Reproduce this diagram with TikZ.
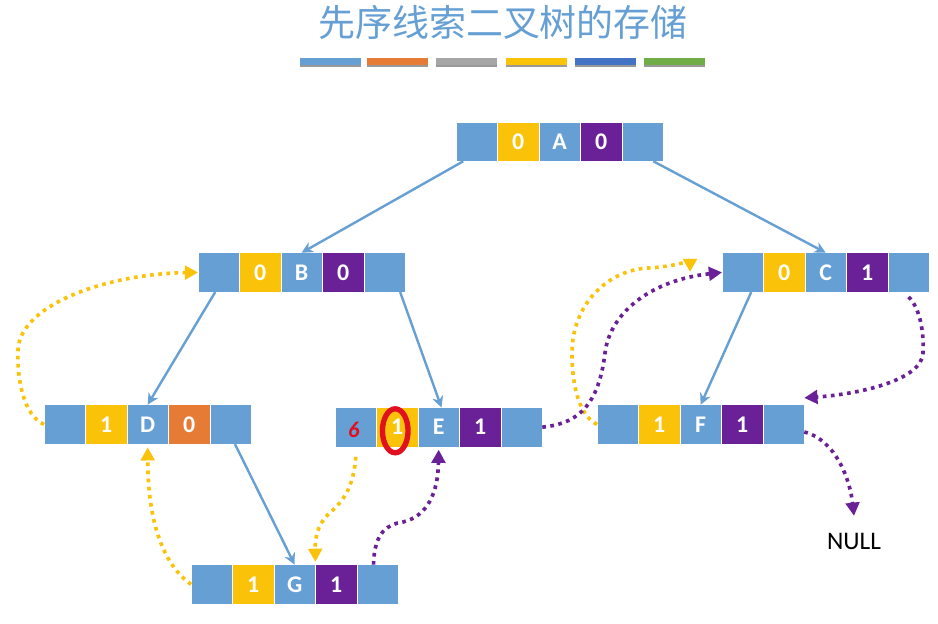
\documentclass[tikz,border=0pt]{standalone}
\usepackage{fontspec}
\setmainfont{Carlito}
\newfontfamily\cjk{Noto Sans CJK SC}
\usetikzlibrary{positioning, arrows.meta, shadows}
\definecolor{azul}{HTML}{659FD3}
\definecolor{amarillo}{HTML}{FAC30A}
\definecolor{morado}{HTML}{6A2198}
\definecolor{naranja}{HTML}{E57B35}
\definecolor{rojo}{HTML}{E0101E}

\begin{document}
\begin{tikzpicture}[
    % Estilos para las celdas
    celda/.style={draw=white, line width=0.4pt, outer sep=0pt, inner sep=0pt, minimum width=1.036cm, minimum height=0.985cm, text=white, font=\fontsize{17}{18}\selectfont\bfseries},
    celda_azul/.style={celda, fill=azul},
    celda_amarilla/.style={celda, fill=amarillo},
    celda_morada/.style={celda, fill=morado},
    celda_naranja/.style={celda, fill=naranja},
    barra/.style={minimum width=1.525cm, minimum height=0.175cm, inner sep=0pt, drop shadow={shadow xshift=0pt, shadow yshift=-0.05cm, fill=black, opacity=0.4}},
    % Estilos para las conexiones
    enlace/.style={draw=azul, line width=1.7pt, -{Stealth[length=2.8mm, width=2.8mm]}},
    hilo_amarillo/.style={draw=amarillo, line width=2.6pt, dash pattern=on 2.6pt off 3.2pt, -{Triangle[length=3.3mm, width=3.4mm]}},
    hilo_morado/.style={draw=morado, line width=2.6pt, dash pattern=on 2.6pt off 3.2pt, -{Triangle[length=3.3mm, width=3.4mm]}}
    ]

    \useasboundingbox (0,0) rectangle (23.45,15.6);

    % Titulo y barras de colores
    \node[text=azul, font=\cjk\fontsize{26.3}{30}\selectfont] (titulo) at (12.575,15.05) {先序线索二叉树的存储};
    \node[barra, fill=azul] (barra1) at (8.25,14.05) {};
    \node[barra, fill=naranja] (barra2) at (9.925,14.05) {};
    \node[barra, fill=gray!70] (barra3) at (11.66,14.05) {};
    \node[barra, fill=amarillo] (barra4) at (13.41,14.05) {};
    \node[barra, fill={rgb,255:red,68;green,114;blue,196}] (barra5) at (15.125,14.05) {};
    \node[barra, fill={rgb,255:red,112;green,173;blue,71}] (barra6) at (16.86,14.05) {};

    % Nodo A
    \node[celda_azul] (a1) at (11.92,12.06) {};
    \node[celda_amarilla, right=0pt of a1] (a2) {0};
    \node[celda_azul, right=0pt of a2] (a3) {A};
    \node[celda_morada, right=0pt of a3] (a4) {0};
    \node[celda_azul, right=0pt of a4] (a5) {};

    % Nodo B
    \node[celda_azul] (b1) at (5.47,8.79) {};
    \node[celda_amarilla, right=0pt of b1] (b2) {0};
    \node[celda_azul, right=0pt of b2] (b3) {B};
    \node[celda_morada, right=0pt of b3] (b4) {0};
    \node[celda_azul, right=0pt of b4] (b5) {};

    % Nodo C
    \node[celda_azul] (c1) at (18.57,8.79) {};
    \node[celda_amarilla, right=0pt of c1] (c2) {0};
    \node[celda_azul, right=0pt of c2] (c3) {C};
    \node[celda_morada, right=0pt of c3] (c4) {1};
    \node[celda_azul, right=0pt of c4] (c5) {};

    % Nodo D
    \node[celda_azul] (d1) at (1.62,4.99) {};
    \node[celda_amarilla, right=0pt of d1] (d2) {1};
    \node[celda_azul, right=0pt of d2] (d3) {D};
    \node[celda_naranja, right=0pt of d3] (d4) {0};
    \node[celda_azul, right=0pt of d4] (d5) {};

    % Nodo E
    \node[celda_azul] (e1) at (8.895,4.92) {};
    \node[celda_amarilla, right=0pt of e1] (e2) {1};
    \node[celda_azul, right=0pt of e2] (e3) {E};
    \node[celda_morada, right=0pt of e3] (e4) {1};
    \node[celda_azul, right=0pt of e4] (e5) {};

    % Nodo F
    \node[celda_azul] (f1) at (15.445,4.99) {};
    \node[celda_amarilla, right=0pt of f1] (f2) {1};
    \node[celda_azul, right=0pt of f2] (f3) {F};
    \node[celda_morada, right=0pt of f3] (f4) {1};
    \node[celda_azul, right=0pt of f4] (f5) {};

    % Nodo G
    \node[celda_azul] (g1) at (5.295,0.99) {};
    \node[celda_amarilla, right=0pt of g1] (g2) {1};
    \node[celda_azul, right=0pt of g2] (g3) {G};
    \node[celda_morada, right=0pt of g3] (g4) {1};
    \node[celda_azul, right=0pt of g4] (g5) {};

    \node[font=\fontsize{18}{20}\selectfont] (nulo) at (21.35,2.075) {NULL};

    % Marcas a mano
    \node[text=rojo, font=\fontsize{16}{18}\selectfont\itshape\bfseries] (seis) at ([xshift=-0.05cm, yshift=-0.08cm]e1.center) {6};
    \draw[rojo, line width=3.8pt] ([xshift=-0.05cm, yshift=-0.09cm]e2.center) ellipse (0.32cm and 0.55cm);

    % Aristas del arbol
    \draw[enlace] ([xshift=-0.34cm]a1.south) -- (b3.north);
    \draw[enlace] ([xshift=0.27cm]a5.south) -- (c3.north);
    \draw[enlace] ([xshift=-0.09cm]b1.south) -- (d3.north);
    \draw[enlace] ([xshift=0.39cm]b5.south) -- ([xshift=0.07cm]e3.north);
    \draw[enlace] ([xshift=0.21cm]c1.south) -- (f3.north);
    \draw[enlace] ([xshift=0.11cm]d5.south) -- (g3.north);

    % Hilos amarillos
    \draw[hilo_amarillo] (d1.west) .. controls (0.6,5.2) and (0.42,6.1) .. (0.45,6.85) .. controls (0.5,8.0) and (2.7,8.75) .. (b1.west);
    \draw[hilo_amarillo] (g1.west) .. controls (4.2,1.4) and (3.7,2.3) .. ([yshift=-0.08cm]d3.south);
    \draw[hilo_amarillo] ([yshift=-0.25cm]e1.south) .. controls (8.85,3.6) and (8.7,3.2) .. (8.325,2.85) .. controls (7.95,2.55) and (7.875,2.2) .. ([yshift=0.07cm]g3.north east);
    \coordinate (llegada_c) at (17.25,8.8);
    \draw[hilo_amarillo] (f1.west) .. controls (14.5,5.2) and (14.3,5.9) .. (14.3,6.775) .. controls (14.3,8.0) and (15.2,8.85) .. (16.2,8.9) .. controls (16.7,8.92) and (17.25,9.05) .. (llegada_c);

    % Hilos morados
    \draw[hilo_morado] ([xshift=-0.1cm]g5.north) .. controls (9.35,2.3) and (9.7,2.5) .. (10.075,2.55) .. controls (10.7,2.7) and (10.95,3.3) .. ([yshift=-0.07cm]e3.south);
    \draw[hilo_morado] (e5.east) .. controls (14.3,5.0) and (14.95,5.3) .. (15.125,6.775) .. controls (15.25,7.8) and (16.3,8.6) .. (c1.west);
    \draw[hilo_morado] ([yshift=-0.12cm]c5.south) .. controls (23.0,7.9) and (23.1,7.3) .. (23.075,6.775) .. controls (23.05,6.1) and (21.5,5.75) .. ([yshift=0.17cm]f5.north east);
    \draw[hilo_morado] ([yshift=-0.19cm]f5.east) .. controls (20.9,4.6) and (21.25,3.6) .. ([yshift=0.3cm]nulo.north);

\end{tikzpicture}
\end{document}
